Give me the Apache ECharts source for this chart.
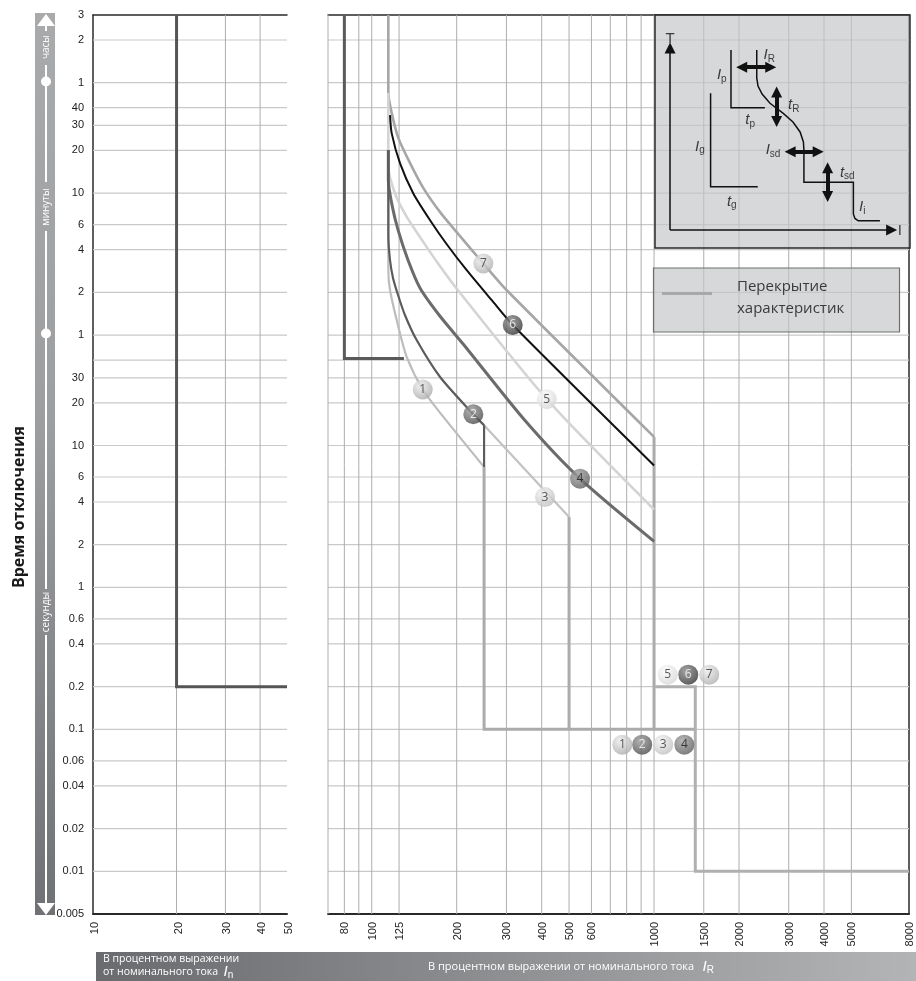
<!DOCTYPE html>
<html><head><meta charset="utf-8">
<script src="https://cdn.jsdelivr.net/npm/echarts@6/dist/echarts.min.js"></script>
<style>html,body{margin:0;padding:0;background:#fff}#c{width:916px;height:981px}</style>
</head><body><div id="c"></div>
<script>
// ---------- axis ranges ----------
const T_MIN = 0.005, T_MAX = 10800;           // seconds (0.005 s .. 3 h)
const LEFT_X_MIN = 10, LEFT_X_MAX = 50;       // % of In
const RIGHT_X_MIN = 70, RIGHT_X_MAX = 8000;   // % of IR

// ---------- grid / ticks ----------
const Y_GRID = [7200,3600,2400,1800,1200,600,360,240,120,60,40,30,20,10,6,4,2,1,0.6,0.4,0.2,0.1,0.06,0.04,0.02,0.01];
const Y_TICK_VALUES = [10800,7200,3600,2400,1800,1200,600,360,240,120,60,30,20,10,6,4,2,1,0.6,0.4,0.2,0.1,0.06,0.04,0.02,0.01,0.005];
const Y_TICK_LABELS = ['3','2','1','40','30','20','10','6','4','2','1','30','20','10','6','4','2','1','0.6','0.4','0.2','0.1','0.06','0.04','0.02','0.01','0.005'];
const LEFT_X_GRID = [20,30,40];
const LEFT_X_LABELS = [10,20,30,40,50];
const RIGHT_X_GRID = [70,80,90,100,125,200,300,400,500,600,700,800,900,1000,1500,2000,3000,4000,5000];
const RIGHT_X_LABELS = [80,100,125,200,300,400,500,600,1000,1500,2000,3000,4000,5000,8000];

// ---------- characteristics [current %, time s] ----------
const CURVE_IN = [[20,10800],[20,0.2],[50,0.2]];
const CURVE_80 = [[80,10800],[80,41],[130,41]];
const CURVE_1 = [[114.5,1206],[114.5,172],[116.1,124.2],[124.3,68.4],[133.1,42.0],[151.6,24.8],[179.4,15.9],[250,7.05]];
const CURVE_2 = [[114.5,1206],[114.5,303],[116.1,202],[119.0,151],[124.0,114.5],[131.2,82.8],[144.4,55.1],[174.6,30.4],[229.0,16.6],[250,13.9]];
const CURVE_2_DROP = [[250,13.9],[250,7.05]];
const CURVE_3 = [[229.0,16.6],[250,13.9],[500,3.13]];
const CURVE_4 = [[114.5,1206],[114.5,741],[118.0,494],[124.0,329],[134.5,202],[148.4,128.3],[174.6,81.4],[211.1,51.7],[349.1,15.0],[546.7,5.84],[1000,2.11]];
const CURVE_5 = [[114.5,3043],[114.5,919],[120.9,597],[133.1,408],[152.4,271],[174.6,183],[200,127.2],[416.8,21.2],[1000,3.54]];
const CURVE_6 = [[116.1,2129],[117.7,1582],[126.0,972],[140.4,597],[160.9,387],[184.4,262],[217.0,171.8],[266.1,105.6],[315.8,70.7],[1000,7.24]];
const CURVE_7 = [[114.5,10800],[114.5,3043],[117.7,2199],[124.3,1466],[136.7,977],[152.4,651],[174.6,441],[205.5,299],[248.5,191.6],[300.8,124.2],[1000,11.5]];
const OVERLAP_A = [[250,7.05],[250,0.1],[1400,0.1]];
const OVERLAP_B = [[500,3.13],[500,0.1]];
const OVERLAP_C = [[1000,11.5],[1000,0.1]];
const OVERLAP_D = [[1000,0.2],[1400,0.2],[1400,0.01],[8000,0.01]];

// ---------- numbered markers ----------
const MARKER_LABELS = ['1','2','3','4','5','6','7'];
const MARKER_I = [151.6,229.0,411.0,546.7,416.8,315.8,248.5];
const MARKER_T = [24.8,16.6,4.33,5.84,21.2,70.7,191.6];
const KEY_TOP_LABELS = ['5','6','7'];
const KEY_TOP_I = [1118,1322,1569];
const KEY_TOP_T = 0.243;
const KEY_BOTTOM_LABELS = ['1','2','3','4'];
const KEY_BOTTOM_I = [772,908,1078,1280];
const KEY_BOTTOM_T = 0.078;

// ---------- inset schematic (0..100 units) ----------
const INSET_IP = [[29.8,85.0],[29.8,60.2],[43.1,60.2]];
const INSET_IG = [[21.8,66.4],[21.8,26.3],[40.3,26.3]];
const INSET_MAIN = [[39.9,85.0],[39.9,73.0],[40.4,69.5],[42.0,66.1],[45.1,62.1],[50.3,57.8],[54.1,54.1],[56.9,49.8],[58.2,45.5],[58.4,42.1],[58.4,28.2],[77.8,28.2],[77.8,14.6],[78.4,12.7],[79.7,11.7],[88.2,11.7]];
const INSET_AXES = [[[5.9,7.7],[5.9,85.8]],[[5.9,7.7],[92.8,7.7]]];
const INSET_ARROWS = [[[34.0,77.6],[45.4,77.6]],[[47.7,67.0],[47.7,54.3]],[[53.0,41.3],[64.0,41.3]],[[67.7,34.4],[67.7,22.1]]];
const INSET_LABELS = ['T','I','Ip','tp','Ig','tg','IR','tR','Isd','tsd','Ii'];
const INSET_LABEL_X = [5.9,96.0,26.2,37.3,17.6,30.1,44.8,54.4,46.3,75.4,81.3];
const INSET_LABEL_Y = [89.9,7.5,74.2,54.9,43.5,19.9,82.8,61.4,42.1,32.3,17.7];

// ---------- styles ----------
const FONT_NUM = '"Liberation Sans", Arial, sans-serif';
const FONT_TXT = '"Open Sans", "Noto Sans", sans-serif';
const MARKER_STYLE = {
  '1':['#ececec','#a6a6a6','#333'], '2':['#9c9c9c','#474747','#fff'], '3':['#f2f2f2','#bdbdbd','#333'],
  '4':['#a4a4a4','#595959','#1a1a1a'], '5':['#fcfcfc','#d4d4d4','#333'], '6':['#8c8c8c','#2f2f2f','#fff'],
  '7':['#ececec','#acacac','#333']
};

function hLines(xMin, xMax, color, w) {
  return function (params, api) {
    const v = api.value(1), a = api.coord([xMin, v]), b = api.coord([xMax, v]);
    return {type:'line', shape:{x1:a[0], y1:a[1], x2:b[0], y2:b[1]}, style:{stroke:color, lineWidth:w}};
  };
}
function vLines(color, w) {
  return function (params, api) {
    const v = api.value(0), a = api.coord([v, T_MIN]), b = api.coord([v, T_MAX]);
    return {type:'line', shape:{x1:a[0], y1:a[1], x2:b[0], y2:b[1]}, style:{stroke:color, lineWidth:w}};
  };
}
function curve(data, xi, yi, color, width, z, smooth) {
  return {type:'line', xAxisIndex:xi, yAxisIndex:yi, data:data, symbol:'none', silent:true, z:z || 3,
    smooth: smooth || false,
    lineStyle:{color:color, width:width, cap:'butt', join:'miter'}};
}
function markerItem(lbl, x, t) {
  const s = MARKER_STYLE[lbl];
  return {value:[x, t], name:lbl,
    itemStyle:{color:{type:'radial', x:0.38, y:0.32, r:0.75, colorStops:[{offset:0, color:s[0]},{offset:1, color:s[1]}]}},
    label:{color:s[2]}};
}
const markerData = [];
MARKER_LABELS.forEach((l,i)=>markerData.push(markerItem(l, MARKER_I[i], MARKER_T[i])));
KEY_TOP_LABELS.forEach((l,i)=>markerData.push(markerItem(l, KEY_TOP_I[i], KEY_TOP_T)));
KEY_BOTTOM_LABELS.forEach((l,i)=>markerData.push(markerItem(l, KEY_BOTTOM_I[i], KEY_BOTTOM_T)));

const INSET_RICH_MAP = {T:'{u|T}', I:'{u|I}', Ip:'{i|I}{s|p}', tp:'{i|t}{s|p}', Ig:'{i|I}{s|g}', tg:'{i|t}{s|g}',
  IR:'{i|I}{s|R}', tR:'{i|t}{s|R}', Isd:'{i|I}{s|sd}', tsd:'{i|t}{s|sd}', Ii:'{i|I}{s|i}'};

const chart = echarts.init(document.getElementById('c'), null, {renderer:'canvas', width:916, height:981});

const logX = (gi, min, max, pos, lw) => ({type:'log', gridIndex:gi, min:min, max:max, position:pos, logBase:10,
  axisLine:{show:true, lineStyle:{color:'#2a2a2a', width:lw}}, axisTick:{show:false}, axisLabel:{show:false}, splitLine:{show:false}});

const SM = 0.25;
const option = {
  animation:false,
  backgroundColor:'#fff',
  grid:[
    {left:93, top:15, width:194, height:899},
    {left:328, top:15, width:581, height:899},
    {left:655, top:15, width:255, height:233}
  ],
  xAxis:[
    logX(0, LEFT_X_MIN, LEFT_X_MAX, 'bottom', 2),
    logX(0, LEFT_X_MIN, LEFT_X_MAX, 'top', 1.5),
    logX(1, RIGHT_X_MIN, RIGHT_X_MAX, 'bottom', 2),
    logX(1, RIGHT_X_MIN, RIGHT_X_MAX, 'top', 1.5),
    {type:'value', gridIndex:2, min:0, max:100, show:false}
  ],
  yAxis:[
    {type:'log', gridIndex:0, min:T_MIN, max:T_MAX, position:'left', axisLine:{show:true, lineStyle:{color:'#2a2a2a', width:1.5}},
      axisTick:{show:false}, axisLabel:{show:false}, splitLine:{show:false}},
    {type:'log', gridIndex:1, min:T_MIN, max:T_MAX, position:'right', axisLine:{show:true, lineStyle:{color:'#2a2a2a', width:1.5}},
      axisTick:{show:false}, axisLabel:{show:false}, splitLine:{show:false}},
    {type:'value', gridIndex:2, min:0, max:100, show:false}
  ],
  series:[
    // grid lines
    {type:'custom', xAxisIndex:0, yAxisIndex:0, silent:true, z:1, data:Y_GRID.map(v=>[LEFT_X_MIN, v]), renderItem:hLines(LEFT_X_MIN, LEFT_X_MAX, '#c9c9c9', 1.2)},
    {type:'custom', xAxisIndex:0, yAxisIndex:0, silent:true, z:1, data:LEFT_X_GRID.map(v=>[v, 1]), renderItem:vLines('#adadad', 1)},
    {type:'custom', xAxisIndex:2, yAxisIndex:1, silent:true, z:1, data:Y_GRID.map(v=>[RIGHT_X_MIN, v]), renderItem:hLines(RIGHT_X_MIN, RIGHT_X_MAX, '#c9c9c9', 1.2)},
    {type:'custom', xAxisIndex:2, yAxisIndex:1, silent:true, z:1, data:RIGHT_X_GRID.map(v=>[v, 1]), renderItem:vLines('#adadad', 1)},
    // y tick labels
    {type:'custom', xAxisIndex:0, yAxisIndex:0, silent:true, z:5, data:Y_TICK_VALUES.map(v=>[LEFT_X_MIN, v]),
      renderItem:function(params, api){ const p = api.coord([LEFT_X_MIN, api.value(1)]);
        return {type:'text', x:p[0]-9, y:p[1], style:{text:Y_TICK_LABELS[params.dataIndex], font:'11px '+FONT_NUM, fill:'#222', align:'right', verticalAlign:'middle'}}; }},
    // x tick labels
    {type:'custom', xAxisIndex:0, yAxisIndex:0, silent:true, z:5, data:LEFT_X_LABELS.map(v=>[v, T_MIN]),
      renderItem:function(params, api){ const p = api.coord([api.value(0), T_MIN]);
        return {type:'text', x:p[0]+2, y:p[1]+8, rotation:Math.PI/2, style:{text:String(LEFT_X_LABELS[params.dataIndex]), font:'11px '+FONT_NUM, fill:'#222', align:'right', verticalAlign:'middle'}}; }},
    {type:'custom', xAxisIndex:2, yAxisIndex:1, silent:true, z:5, data:RIGHT_X_LABELS.map(v=>[v, T_MIN]),
      renderItem:function(params, api){ const p = api.coord([api.value(0), T_MIN]);
        return {type:'text', x:p[0]+1, y:p[1]+8, rotation:Math.PI/2, style:{text:String(RIGHT_X_LABELS[params.dataIndex]), font:'11px '+FONT_NUM, fill:'#222', align:'right', verticalAlign:'middle'}}; }},
    // characteristics
    curve(CURVE_IN, 0, 0, '#555555', 3),
    curve(CURVE_80, 2, 1, '#5a5a5a', 3),
    curve(OVERLAP_A, 2, 1, '#ababab', 3),
    curve(OVERLAP_B, 2, 1, '#ababab', 3),
    curve(OVERLAP_C, 2, 1, '#ababab', 3),
    curve(OVERLAP_D, 2, 1, '#b0b0b0', 3),
    curve(CURVE_7, 2, 1, '#a6a6a6', 2.6, 4, SM),
    curve(CURVE_5, 2, 1, '#d4d4d4', 2.6, 5, SM),
    curve(CURVE_1, 2, 1, '#bdbdbd', 2.2, 5, SM),
    curve(CURVE_3, 2, 1, '#c2c2c2', 2.2, 5),
    curve(CURVE_4, 2, 1, '#6b6b6b', 3, 6, SM),
    curve(CURVE_2, 2, 1, '#5c5c5c', 2.2, 7, SM),
    curve(CURVE_2_DROP, 2, 1, '#5c5c5c', 2.2, 7),
    curve(CURVE_6, 2, 1, '#111111', 2, 8, SM),
    // numbered markers
    {type:'scatter', xAxisIndex:2, yAxisIndex:1, silent:true, z:20, symbol:'circle', symbolSize:20, data:markerData,
      label:{show:true, position:'inside', formatter:'{b}', fontSize:12, fontFamily:FONT_TXT}},
    // inset schematic
    curve(INSET_IP, 4, 2, '#111', 1.5, 30),
    curve(INSET_IG, 4, 2, '#111', 1.5, 30),
    curve(INSET_MAIN, 4, 2, '#111', 1.5, 30),
    {type:'lines', coordinateSystem:'cartesian2d', xAxisIndex:4, yAxisIndex:2, silent:true, z:31,
      data:INSET_AXES.map(c=>({coords:c})), symbol:['none','triangle'], symbolSize:11, lineStyle:{color:'#111', width:1.5, opacity:1}},
    {type:'lines', coordinateSystem:'cartesian2d', xAxisIndex:4, yAxisIndex:2, silent:true, z:31,
      data:INSET_ARROWS.map(c=>({coords:c})), symbol:['triangle','triangle'], symbolSize:11, lineStyle:{color:'#111', width:4, opacity:1}},
    {type:'scatter', xAxisIndex:4, yAxisIndex:2, silent:true, z:32, symbolSize:0,
      data:INSET_LABELS.map((n,i)=>({value:[INSET_LABEL_X[i], INSET_LABEL_Y[i]], name:n})),
      label:{show:true, position:'inside', formatter:p=>INSET_RICH_MAP[p.name],
        rich:{u:{fontSize:15, fontFamily:FONT_NUM, color:'#111'},
              i:{fontSize:15, fontStyle:'italic', fontFamily:FONT_NUM, color:'#111'},
              s:{fontSize:10, fontFamily:FONT_NUM, color:'#111', padding:[8,0,0,0]}}}}
  ],
  graphic:[
    // y-axis title
    {type:'text', x:19, y:507, rotation:Math.PI/2, z:10, style:{text:'Время отключения', font:'bold 16px '+FONT_TXT, fill:'#1a1a1a', align:'center', verticalAlign:'middle'}},
    // left time-unit bar
    {type:'rect', z:10, shape:{x:35, y:13, width:20, height:902},
      style:{fill:{type:'linear', x:0, y:0, x2:0, y2:1, colorStops:[{offset:0, color:'#a9aaac'},{offset:0.45, color:'#9d9ea0'},{offset:1, color:'#707174'}]}}},
    {type:'polygon', z:11, shape:{points:[[46,14],[37,26],[55,26]]}, style:{fill:'#fff'}},
    {type:'polygon', z:11, shape:{points:[[46,915],[37,903],[55,903]]}, style:{fill:'#fff'}},
    {type:'line', z:11, shape:{x1:46, y1:25, x2:46, y2:31}, style:{stroke:'#fff', lineWidth:2}},
    {type:'line', z:11, shape:{x1:46, y1:65, x2:46, y2:182}, style:{stroke:'#fff', lineWidth:2}},
    {type:'line', z:11, shape:{x1:46, y1:231, x2:46, y2:589}, style:{stroke:'#fff', lineWidth:2}},
    {type:'line', z:11, shape:{x1:46, y1:635, x2:46, y2:904}, style:{stroke:'#fff', lineWidth:2}},
    {type:'circle', z:11, shape:{cx:46, cy:81.5, r:5}, style:{fill:'#fff'}},
    {type:'circle', z:11, shape:{cx:46, cy:333.5, r:5}, style:{fill:'#fff'}},
    {type:'text', x:46, y:47, rotation:Math.PI/2, z:11, style:{text:'часы', font:'10px '+FONT_TXT, fill:'#fff', align:'center', verticalAlign:'middle'}},
    {type:'text', x:46, y:207, rotation:Math.PI/2, z:11, style:{text:'минуты', font:'10px '+FONT_TXT, fill:'#fff', align:'center', verticalAlign:'middle'}},
    {type:'text', x:46, y:612, rotation:Math.PI/2, z:11, style:{text:'секунды', font:'10px '+FONT_TXT, fill:'#fff', align:'center', verticalAlign:'middle'}},
    // bottom band
    {type:'rect', z:10, shape:{x:96, y:952, width:820, height:29},
      style:{fill:{type:'linear', x:0, y:0, x2:1, y2:0, colorStops:[{offset:0, color:'#6a6b6e'},{offset:1, color:'#b3b4b6'}]}}},
    {type:'text', x:103, y:959.5, z:11, style:{text:'В процентном выражении', font:'10.5px '+FONT_TXT, fill:'#fff', align:'left', verticalAlign:'middle'}},
    {type:'text', x:103, y:972, z:11, style:{text:'{t|от номинального тока  }{i|I}{s|n}', align:'left', verticalAlign:'middle',
      rich:{t:{fontSize:10.5, fontFamily:FONT_TXT, fill:'#fff'}, i:{fontSize:15, fontStyle:'italic', fontFamily:FONT_NUM, fill:'#fff'}, s:{fontSize:10, fontFamily:FONT_NUM, fill:'#fff', padding:[6,0,0,0]}}}},
    {type:'text', x:714, y:967, z:11, style:{text:'{t|В процентном выражении от номинального тока   }{i|I}{s|R}', align:'right', verticalAlign:'middle',
      rich:{t:{fontSize:11, fontFamily:FONT_TXT, fill:'#fff'}, i:{fontSize:15, fontStyle:'italic', fontFamily:FONT_NUM, fill:'#fff'}, s:{fontSize:10, fontFamily:FONT_NUM, fill:'#fff', padding:[6,0,0,0]}}}},
    // inset box
    {type:'rect', z:2, shape:{x:655, y:15, width:255, height:233}, style:{fill:'rgba(196,197,199,0.68)', stroke:'#2a2a2a', lineWidth:1.5}},
    // legend box
    {type:'rect', z:2, shape:{x:653.5, y:268, width:246, height:64}, style:{fill:'rgba(196,197,199,0.68)', stroke:'#6e6e6e', lineWidth:1.2}},
    {type:'line', z:3, shape:{x1:662, y1:293.5, x2:712, y2:293.5}, style:{stroke:'#a8a8a8', lineWidth:3}},
    {type:'text', x:737, y:287, z:3, style:{text:'Перекрытие', font:'15px '+FONT_TXT, fill:'#3a3a3a', align:'left', verticalAlign:'middle'}},
    {type:'text', x:737, y:308.5, z:3, style:{text:'характеристик', font:'15px '+FONT_TXT, fill:'#3a3a3a', align:'left', verticalAlign:'middle'}}
  ]
};
chart.setOption(option);
</script>
</body></html>
